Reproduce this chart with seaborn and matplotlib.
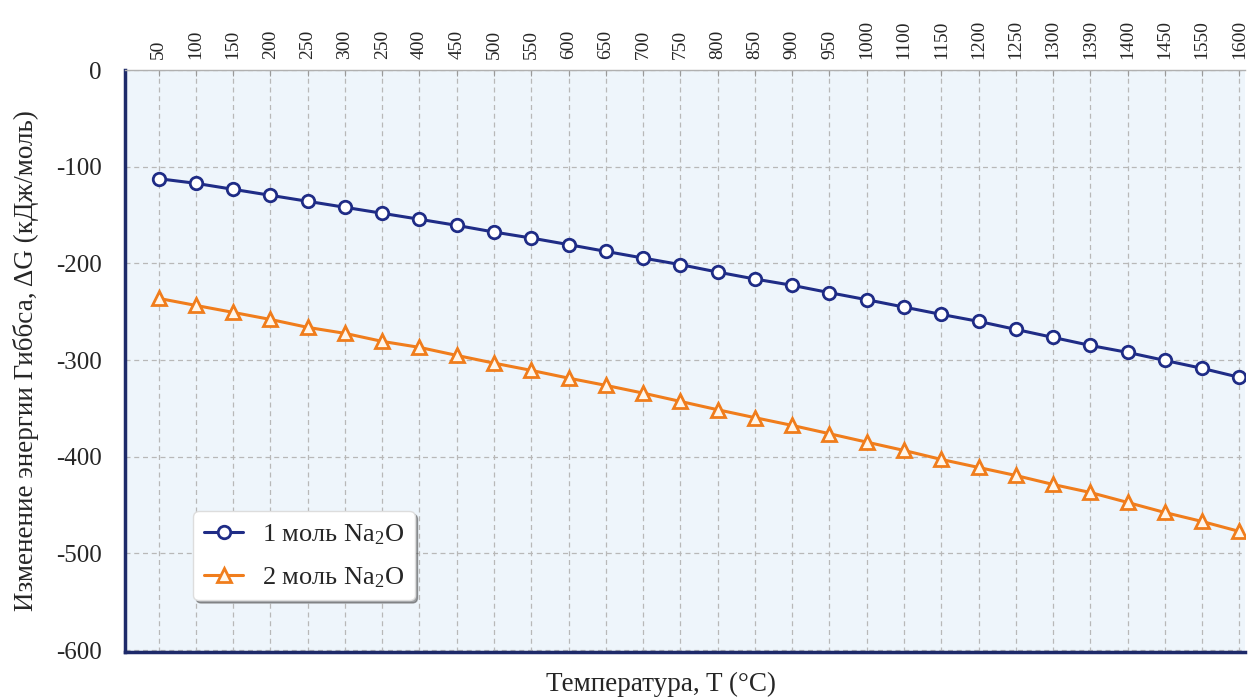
import numpy as np
import pandas as pd
import matplotlib
matplotlib.use("Agg")
import matplotlib.pyplot as plt
import seaborn as sns

# tick labels as printed in the source chart (typos kept)
temps = ["50", "100", "150", "200", "250", "300", "250", "400", "450", "500",
         "550", "600", "650", "700", "750", "800", "850", "900", "950", "1000",
         "1100", "1150", "1200", "1250", "1300", "1390", "1400", "1450", "1550", "1600"]

# Gibbs energy change, kJ/mol
dg_1mol = [-112.4, -117.2, -123.4, -129.6, -135.8, -142.0, -148.2, -154.4, -160.7, -167.6,
           -173.8, -180.6, -187.6, -194.5, -201.3, -209.0, -216.2, -222.7, -230.3, -237.6,
           -245.2, -252.8, -260.0, -268.3, -276.6, -284.9, -292.1, -300.4, -308.6, -317.9]
dg_2mol = [-236.2, -243.5, -250.7, -258.0, -266.2, -272.4, -280.7, -286.9, -295.2, -303.2,
           -310.7, -318.7, -326.2, -334.2, -342.8, -351.4, -359.6, -367.6, -376.2, -384.9,
           -393.5, -402.8, -411.1, -419.4, -428.7, -437.0, -447.3, -457.7, -467.0, -477.3]

yticks = [0, -100, -200, -300, -400, -500, -600]

blue = "#1f2c86"
orange = "#f07d1c"
navy = "#1e2a6a"

sns.set_style("ticks")
plt.rcParams['font.family'] = ['Liberation Serif', 'DejaVu Serif']
plt.rcParams['mathtext.fontset'] = 'custom'
plt.rcParams['mathtext.rm'] = 'Liberation Serif'
plt.rcParams['mathtext.it'] = 'Liberation Serif:italic'

df = pd.DataFrame({"pos": np.arange(len(temps)), "one": dg_1mol, "two": dg_2mol})

fig = plt.figure(figsize=(12.49, 6.98), dpi=100)
ax = fig.add_axes([0.1001, 0.0659, 0.8967, 0.8338])
ax.set_facecolor("#eef5fb")

sns.lineplot(data=df, x="pos", y="one", ax=ax, color=blue, linewidth=2.2,
             marker="o", markersize=9, markerfacecolor="white",
             markeredgecolor=blue, markeredgewidth=2, label="1 моль Na$_2$O")
sns.lineplot(data=df, x="pos", y="two", ax=ax, color=orange, linewidth=2.2,
             marker="^", markersize=10, markerfacecolor="#fff6ea",
             markeredgecolor=orange, markeredgewidth=2, label="2 моль Na$_2$O")

ax.set_xlim(-0.9, 29.15)
ax.set_ylim(-602, 0)

ax.xaxis.tick_top()
ax.xaxis.set_label_position("bottom")
ax.set_xticks(df["pos"])
ax.set_xticklabels(temps, rotation=90, fontsize=14)
ax.tick_params(axis="x", direction="in", length=4, color="#9a9a9a", pad=8)
ax.set_yticks(yticks)
ax.set_yticklabels([str(v) for v in yticks], fontsize=18)
ax.tick_params(axis="y", length=0, pad=17)

ax.grid(True, linestyle=(0, (4, 3)), color="#b8b8b8", linewidth=0.9)

for s in ["left", "bottom"]:
    ax.spines[s].set_color(navy)
    ax.spines[s].set_linewidth(2.5)
ax.spines["top"].set_color("#b0b0b0")
ax.spines["top"].set_linewidth(1)
ax.spines["right"].set_visible(False)

ax.set_xlabel("Температура, T (°C)", fontsize=19.5)
ax.xaxis.set_label_coords(0.479, -0.034)
ax.set_ylabel("Изменение энергии Гиббса, ΔG (кДж/моль)", fontsize=19.5, labelpad=12)

ax.legend(loc="lower left", bbox_to_anchor=(0.061, 0.089), fontsize=19,
          frameon=True, fancybox=True, shadow=True, framealpha=1,
          borderpad=0.4, labelspacing=0.7, handlelength=1.5, handletextpad=0.7,
          borderaxespad=0, edgecolor="#dddddd")

fig.savefig("out.png", dpi=100)
